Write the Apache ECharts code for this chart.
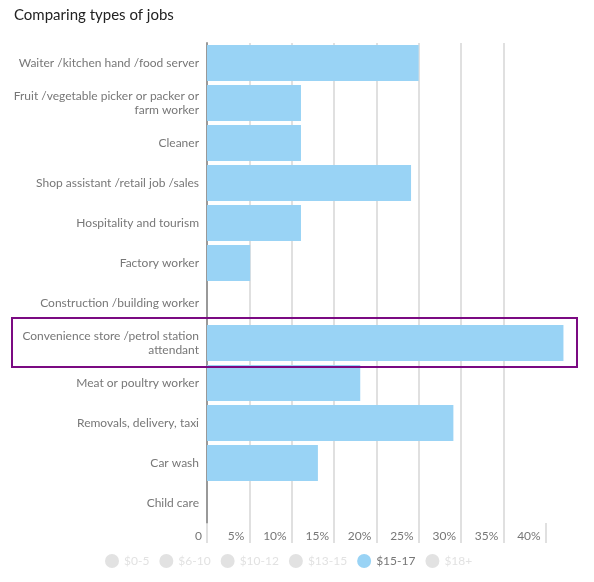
<!DOCTYPE html>
<html><head><meta charset="utf-8">
<script src="https://cdn.jsdelivr.net/npm/echarts@6/dist/echarts.min.js"></script>
<style>html,body{margin:0;padding:0;background:#fff}#c{width:594px;height:582px}</style>
</head><body><div id="c"></div>
<script>
const categories = [
  'Waiter /kitchen hand /food server',
  'Fruit /vegetable picker or packer or\nfarm worker',
  'Cleaner',
  'Shop assistant /retail job /sales',
  'Hospitality and tourism',
  'Factory worker',
  'Construction /building worker',
  'Convenience store /petrol station\nattendant',
  'Meat or poultry worker',
  'Removals, delivery, taxi',
  'Car wash',
  'Child care'
];
const wageBands = ['$0-5', '$6-10', '$10-12', '$13-15', '$15-17', '$18+'];
const shownBand = '$15-17';
const values15to17 = [25.0, 11.1, 11.1, 24.1, 11.1, 5.1, 0, 42.1, 18.1, 29.1, 13.1, 0];
const tickValues = [0, 5, 10, 15, 20, 25, 30, 35, 40];
const highlightedCategory = 'Convenience store /petrol station\nattendant';

const chart = echarts.init(document.getElementById('c'), null, {renderer: 'canvas'});
const selected = {};
wageBands.forEach(b => selected[b] = (b === shownBand));
const series = wageBands.map(b => ({
  name: b,
  type: 'bar',
  barCategoryGap: '10%',
  itemStyle: {color: '#99d3f5'},
  data: b === shownBand ? values15to17 : []
}));
chart.setOption({
  animation: false,
  color: ['#99d3f5'],
  title: {
    text: 'Comparing types of jobs',
    left: 9, top: 3,
    textStyle: {fontFamily: 'Lato', fontWeight: 'normal', fontSize: 15, color: '#222'}
  },
  grid: {left: 207, right: 6, top: 43, bottom: 59, containLabel: false, outerBoundsMode: 'none'},
  xAxis: {
    type: 'value', min: 0, max: 45, interval: 5,
    axisLine: {show: false},
    axisTick: {show: true, length: 20, inside: false, customValues: tickValues, lineStyle: {color: '#d6d6d6', width: 1.5}},
    splitLine: {show: true, showMaxLine: false, showMinLine: false, lineStyle: {color: '#d6d6d6', width: 1.5}},
    axisLabel: {
      customValues: tickValues,
      margin: 7,
      align: 'right',
      padding: [0, 5, 0, 0],
      fontFamily: 'Lato', fontSize: 12, color: '#777',
      formatter: v => v === 0 ? '0' : v + '%'
    }
  },
  yAxis: {
    type: 'category', data: categories, inverse: true,
    axisLine: {show: true, lineStyle: {color: '#999', width: 2}},
    axisTick: {show: false},
    axisLabel: {margin: 8, fontFamily: 'Lato', fontSize: 12, lineHeight: 14, color: '#777', align: 'right'}
  },
  legend: {
    data: wageBands, selected: selected,
    left: 100, top: 549,
    icon: 'circle', itemWidth: 14, itemHeight: 14, itemGap: 10,
    inactiveColor: '#e2e2e2',
    textStyle: {fontFamily: 'Lato', fontSize: 12, color: '#777'}
  },
  series: series
});

function drawBox() {
  const idx = categories.indexOf(highlightedCategory);
  const cy = chart.convertToPixel({yAxisIndex: 0}, idx);
  chart.setOption({graphic: [{
    type: 'rect', id: 'hl',
    shape: {x: 12, y: cy - 25, width: 565, height: 49},
    style: {fill: 'none', stroke: '#7b0a82', lineWidth: 2},
    z: 100
  }]});
}
drawBox();
</script></body></html>
